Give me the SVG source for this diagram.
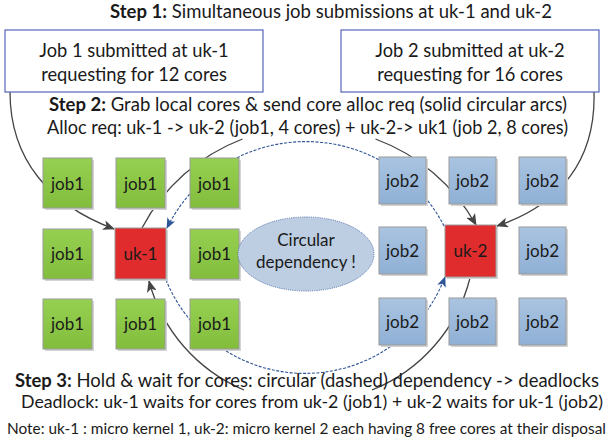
<svg xmlns="http://www.w3.org/2000/svg" width="613" height="443" viewBox="0 0 613 443">
<style>
text{font-family:Lato,"Liberation Sans",sans-serif;fill:#1a1a1a}
.t{font-size:18.5px;text-anchor:middle}
.d{font-size:18px;text-anchor:middle}
.n{font-size:15.2px;text-anchor:middle}
.lbl{font-size:17px;text-anchor:middle}
.bx{font-size:18.3px;text-anchor:middle}
.b{font-weight:bold}
.top{fill:#fff;stroke:#5565b8;stroke-width:1.2}
.g{fill:url(#gg);stroke:#9a9a9a;stroke-width:1}
.bl{fill:url(#gb);stroke:#9a9a9a;stroke-width:1}
.r{fill:#e02c2c;stroke:#9a9a9a;stroke-width:1}
.sh{fill:#d4d4d4}
.solid{fill:none;stroke:#444;stroke-width:1.3}
.dash{fill:none;stroke:#2e5597;stroke-width:1.1;stroke-dasharray:3 1.5}
</style>
<defs>
<linearGradient id="gg" x1="0" y1="0" x2="0" y2="1"><stop offset="0" stop-color="#95d052"/><stop offset="1" stop-color="#82bd3c"/></linearGradient>
<linearGradient id="gb" x1="0" y1="0" x2="0" y2="1"><stop offset="0" stop-color="#aac4e1"/><stop offset="1" stop-color="#8fb0d5"/></linearGradient>
<marker id="ah" viewBox="0 0 12 10" refX="11" refY="5" markerWidth="12" markerHeight="10" markerUnits="userSpaceOnUse" orient="auto"><path d="M0,0 L12,5 L0,10 L3,5 Z" fill="#444"/></marker>
<marker id="ahb" viewBox="0 0 12 10" refX="11" refY="5" markerWidth="11" markerHeight="9" markerUnits="userSpaceOnUse" orient="auto"><path d="M0,0 L12,5 L0,10 L3,5 Z" fill="#2e5597"/></marker>
</defs>

<g id="connectors">
<path class="solid" d="M10,92 C10,160 50,205 114,229" marker-end="url(#ah)"/>
<path class="solid" d="M594,92 C596,160 560,205 497,226" marker-end="url(#ah)"/>
<path class="solid" d="M142,228 A190,190 0 0 1 242.5,139"/>
<path class="solid" d="M375.5,139 A190,190 0 0 1 476,225" marker-end="url(#ah)"/>
<path class="solid" d="M470,278 A164,164 0 0 1 372,390"/>
<path class="solid" d="M244,390 A164,164 0 0 1 149,281" marker-end="url(#ah)"/>
<path class="dash" d="M444,226 A155,155 0 0 0 167,228" marker-end="url(#ahb)"/>
<path class="dash" d="M166,280 A150,150 0 0 0 445,277" marker-end="url(#ahb)"/>
</g>

<g id="step1"><text class="t" x="331" y="18" textLength="442" lengthAdjust="spacingAndGlyphs"><tspan class="b">Step 1:</tspan> Simultaneous job submissions at uk-1 and uk-2</text></g>
<g id="job1req"><rect class="top" x="5" y="30" width="258" height="62"/><text class="bx" x="134" y="57">Job 1 submitted at uk-1</text><text class="bx" x="134" y="81">requesting for 12 cores</text></g>
<g id="job2req"><rect class="top" x="341" y="30" width="258" height="62"/><text class="bx" x="470" y="57">Job 2 submitted at uk-2</text><text class="bx" x="470" y="81">requesting for 16 cores</text></g>
<g id="step2"><text class="t" x="308" y="111" textLength="518" lengthAdjust="spacingAndGlyphs"><tspan class="b">Step 2:</tspan> Grab local cores &amp; send core alloc req (solid circular arcs)</text><text class="t" x="307.5" y="134" textLength="521" lengthAdjust="spacingAndGlyphs">Alloc req: uk-1 -&gt; uk-2 (job1, 4 cores) + uk-2-&gt; uk1 (job 2, 8 cores)</text></g>

<g id="j1a"><rect class="sh" x="45" y="160" width="49" height="50"/><rect class="g" x="43" y="158" width="49" height="50"/><text class="lbl" x="67.5" y="190">job1</text></g>
<g id="j1b"><rect class="sh" x="118" y="160" width="49" height="50"/><rect class="g" x="116" y="158" width="49" height="50"/><text class="lbl" x="140.5" y="190">job1</text></g>
<g id="j1c"><rect class="sh" x="192" y="160" width="49" height="50"/><rect class="g" x="190" y="158" width="49" height="50"/><text class="lbl" x="214.5" y="190">job1</text></g>
<g id="j1d"><rect class="sh" x="45" y="231" width="49" height="50"/><rect class="g" x="43" y="229" width="49" height="50"/><text class="lbl" x="67.5" y="260">job1</text></g>
<g id="uk1"><rect class="sh" x="117" y="230" width="51" height="51"/><rect class="r" x="115" y="228" width="51" height="51"/><text class="lbl" x="140.5" y="260">uk-1</text></g>
<g id="j1e"><rect class="sh" x="192" y="231" width="49" height="50"/><rect class="g" x="190" y="229" width="49" height="50"/><text class="lbl" x="214.5" y="260">job1</text></g>
<g id="j1f"><rect class="sh" x="45" y="301" width="49" height="50"/><rect class="g" x="43" y="299" width="49" height="50"/><text class="lbl" x="67.5" y="330">job1</text></g>
<g id="j1g"><rect class="sh" x="118" y="301" width="49" height="50"/><rect class="g" x="116" y="299" width="49" height="50"/><text class="lbl" x="140.5" y="330">job1</text></g>
<g id="j1h"><rect class="sh" x="192" y="301" width="49" height="50"/><rect class="g" x="190" y="299" width="49" height="50"/><text class="lbl" x="214.5" y="330">job1</text></g>

<g id="j2a"><rect class="sh" x="381" y="159" width="47" height="47"/><rect class="bl" x="379" y="157" width="47" height="47"/><text class="lbl" x="402.5" y="187">job2</text></g>
<g id="j2b"><rect class="sh" x="451" y="159" width="47" height="47"/><rect class="bl" x="449" y="157" width="47" height="47"/><text class="lbl" x="472.5" y="187">job2</text></g>
<g id="j2c"><rect class="sh" x="521" y="159" width="47" height="47"/><rect class="bl" x="519" y="157" width="47" height="47"/><text class="lbl" x="542.5" y="187">job2</text></g>
<g id="j2d"><rect class="sh" x="381" y="229" width="47" height="47"/><rect class="bl" x="379" y="227" width="47" height="47"/><text class="lbl" x="402.5" y="257">job2</text></g>
<g id="uk2"><rect class="sh" x="447" y="227" width="51" height="52"/><rect class="r" x="445" y="225" width="51" height="52"/><text class="lbl" x="470.5" y="257">uk-2</text></g>
<g id="j2e"><rect class="sh" x="521" y="229" width="47" height="47"/><rect class="bl" x="519" y="227" width="47" height="47"/><text class="lbl" x="542.5" y="257">job2</text></g>
<g id="j2f"><rect class="sh" x="381" y="300" width="47" height="47"/><rect class="bl" x="379" y="298" width="47" height="47"/><text class="lbl" x="402.5" y="328">job2</text></g>
<g id="j2g"><rect class="sh" x="451" y="300" width="47" height="47"/><rect class="bl" x="449" y="298" width="47" height="47"/><text class="lbl" x="472.5" y="328">job2</text></g>
<g id="j2h"><rect class="sh" x="521" y="300" width="47" height="47"/><rect class="bl" x="519" y="298" width="47" height="47"/><text class="lbl" x="542.5" y="328">job2</text></g>

<g id="circular"><ellipse cx="306" cy="254" rx="68" ry="37" fill="#bdcde2" stroke="#4a6ea8" stroke-width="1" stroke-dasharray="1 1.2"/><text class="lbl" x="306" y="246">Circular</text><text class="lbl" x="306" y="268">dependency !</text></g>

<g id="step3"><text class="t" x="307" y="387" textLength="584" lengthAdjust="spacingAndGlyphs"><tspan class="b">Step 3:</tspan> Hold &amp; wait for cores: circular (dashed) dependency -&gt; deadlocks</text><text class="d" x="312" y="408" textLength="582" lengthAdjust="spacingAndGlyphs">Deadlock: uk-1 waits for cores from uk-2 (job1) + uk-2 waits for uk-1 (job2)</text></g>
<g id="note"><text class="n" x="306.5" y="434" textLength="599" lengthAdjust="spacingAndGlyphs">Note: uk-1 : micro kernel 1, uk-2: micro kernel 2 each having 8 free cores at their disposal</text></g>
</svg>
